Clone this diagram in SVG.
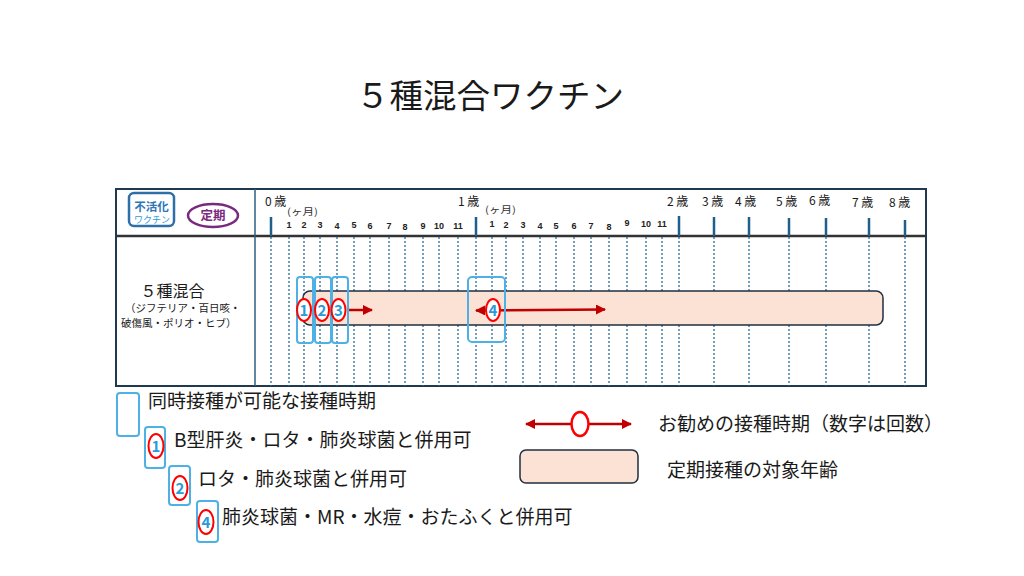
<svg xmlns="http://www.w3.org/2000/svg" width="1024" height="576" viewBox="0 0 1024 576">
<defs>
<style>
text{font-family:"Noto Sans CJK JP","Noto Sans",sans-serif;fill:#1a1a1a}
.yr{font-size:12px;fill:#333}
.mo{font-size:9px;font-weight:bold;font-family:"Liberation Sans","Noto Sans",sans-serif;fill:#222;text-anchor:middle}
.km{font-size:9.5px;fill:#333}
.tick{stroke:#1F5F8B;stroke-width:2.5}
.dot{stroke:#2A6A96;stroke-width:1.3;stroke-dasharray:2 2}
.sim{fill:none;stroke:#4DB1E6;stroke-width:2}
.ov{fill:#fff;stroke:#FF0000;stroke-width:2}
.num{font-size:15px;font-weight:bold;fill:#2C9AD8;text-anchor:middle}
.bar{fill:#FBE2D5;stroke:#1F2F3F;stroke-width:1.5}
.arr{stroke:#C00000;stroke-width:2.5;fill:none}
.lg{font-size:19px;fill:#1a1a1a}
</style>
<marker id="ah" viewBox="0 0 10 10" refX="9" refY="5" markerWidth="4" markerHeight="4" orient="auto-start-reverse" markerUnits="strokeWidth">
<path d="M0,0 L10,5 L0,10 z" fill="#C00000"/>
</marker>
</defs>
<rect width="1024" height="576" fill="#fff"/>

<g id="title"><text x="356" y="108" font-size="33.5">５種混合ワクチン</text></g>

<g id="table">
<rect x="116" y="189" width="810" height="197" fill="none" stroke="#1F3A4F" stroke-width="2"/>
<line x1="116" y1="236" x2="926" y2="236" stroke="#333" stroke-width="2.5"/>
<line x1="255" y1="189" x2="255" y2="386" stroke="#2F5F80" stroke-width="1.5"/>
</g>

<g id="badge-inactive">
<rect x="129" y="193" width="45" height="33" rx="5" fill="#fff" stroke="#2E6FA7" stroke-width="2.5"/>
<text x="151.5" y="211" font-size="11.5" font-weight="bold" text-anchor="middle" style="fill:#2E75B6">不活化</text>
<text x="152" y="222.5" font-size="9" text-anchor="middle" style="fill:#2E9BDA">ワクチン</text>
</g>
<g id="badge-teiki">
<ellipse cx="213" cy="215.5" rx="25" ry="11.5" fill="#fff" stroke="#7A2A7E" stroke-width="2.5"/>
<text x="213" y="220" font-size="12.5" font-weight="bold" text-anchor="middle" style="fill:#7A2A7E">定期</text>
</g>

<g id="axis">
<g class="yr">
<text x="265" y="206">0 歳</text>
<text x="458" y="206">1 歳</text>
<text x="667" y="206">2 歳</text>
<text x="702" y="206">3 歳</text>
<text x="735" y="206">4 歳</text>
<text x="776" y="206">5 歳</text>
<text x="809" y="205">6 歳</text>
<text x="852" y="207">7 歳</text>
<text x="889" y="207">8 歳</text>
</g>
<text class="km" x="287" y="215" textLength="31" lengthAdjust="spacingAndGlyphs">(ヶ月)</text>
<text class="km" x="485" y="213" textLength="31" lengthAdjust="spacingAndGlyphs">(ヶ月)</text>
<g>
<line class="tick" x1="271" y1="217" x2="271" y2="236"/>
<line class="tick" x1="476" y1="217" x2="476" y2="236"/>
<line class="tick" x1="679" y1="216" x2="679" y2="236"/>
<line class="tick" x1="714" y1="217" x2="714" y2="236"/>
<line class="tick" x1="749" y1="217" x2="749" y2="236"/>
<line class="tick" x1="789" y1="218" x2="789" y2="236"/>
<line class="tick" x1="826" y1="218" x2="826" y2="236"/>
<line class="tick" x1="869" y1="218" x2="869" y2="236"/>
<line class="tick" x1="905" y1="220" x2="905" y2="236"/>
</g>
<g>
<text class="mo" x="289" y="228">1</text>
<text class="mo" x="304" y="228">2</text>
<text class="mo" x="320" y="228">3</text>
<text class="mo" x="337" y="229">4</text>
<text class="mo" x="354" y="228">5</text>
<text class="mo" x="370" y="229">6</text>
<text class="mo" x="389" y="229">7</text>
<text class="mo" x="405" y="230">8</text>
<text class="mo" x="423" y="229">9</text>
<text class="mo" x="439" y="229">10</text>
<text class="mo" x="458" y="229">11</text>
<text class="mo" x="492" y="227">1</text>
<text class="mo" x="506" y="228">2</text>
<text class="mo" x="523" y="228">3</text>
<text class="mo" x="540" y="229">4</text>
<text class="mo" x="556" y="229">5</text>
<text class="mo" x="574" y="229">6</text>
<text class="mo" x="591" y="229">7</text>
<text class="mo" x="609" y="230">8</text>
<text class="mo" x="627" y="226">9</text>
<text class="mo" x="646" y="227">10</text>
<text class="mo" x="662" y="227">11</text>
</g>
<g class="dot">
<line x1="271" y1="237" x2="271" y2="386"/>
<line x1="289" y1="237" x2="289" y2="386"/>
<line x1="304" y1="237" x2="304" y2="386"/>
<line x1="320" y1="237" x2="320" y2="386"/>
<line x1="337" y1="237" x2="337" y2="386"/>
<line x1="354" y1="237" x2="354" y2="386"/>
<line x1="370" y1="237" x2="370" y2="386"/>
<line x1="389" y1="237" x2="389" y2="386"/>
<line x1="405" y1="237" x2="405" y2="386"/>
<line x1="423" y1="237" x2="423" y2="386"/>
<line x1="439" y1="237" x2="439" y2="386"/>
<line x1="458" y1="237" x2="458" y2="386"/>
<line x1="476" y1="237" x2="476" y2="386"/>
<line x1="492" y1="237" x2="492" y2="386"/>
<line x1="506" y1="237" x2="506" y2="386"/>
<line x1="523" y1="237" x2="523" y2="386"/>
<line x1="540" y1="237" x2="540" y2="386"/>
<line x1="556" y1="237" x2="556" y2="386"/>
<line x1="574" y1="237" x2="574" y2="386"/>
<line x1="591" y1="237" x2="591" y2="386"/>
<line x1="609" y1="237" x2="609" y2="386"/>
<line x1="627" y1="237" x2="627" y2="386"/>
<line x1="646" y1="237" x2="646" y2="386"/>
<line x1="662" y1="237" x2="662" y2="386"/>
<line x1="679" y1="237" x2="679" y2="386"/>
<line x1="714" y1="237" x2="714" y2="386"/>
<line x1="749" y1="237" x2="749" y2="386"/>
<line x1="789" y1="237" x2="789" y2="386"/>
<line x1="826" y1="237" x2="826" y2="386"/>
<line x1="869" y1="237" x2="869" y2="386"/>
<line x1="905" y1="237" x2="905" y2="386"/>
</g>
</g>

<g id="row-label">
<text x="172.5" y="297" font-size="16" text-anchor="middle">５種混合</text>
<text x="125" y="312" font-size="10.5">（ジフテリア・百日咳・</text>
<text x="121" y="326.5" font-size="10.5">破傷風・ポリオ・ヒブ）</text>
</g>

<g id="target-age-bar"><rect class="bar" x="303" y="291" width="580" height="34" rx="7"/></g>

<g id="connectors">
<line class="arr" x1="348" y1="310" x2="372" y2="310" marker-end="url(#ah)"/>
<line class="arr" x1="476" y1="310.5" x2="605" y2="309.5" marker-start="url(#ah)" marker-end="url(#ah)"/>
</g>

<g id="dose-1">
<rect class="sim" x="297" y="277" width="16" height="66" rx="3"/>
<ellipse class="ov" cx="304" cy="310" rx="7" ry="11"/>
<text class="num" x="304" y="315.5">1</text>
</g>
<g id="dose-2">
<rect class="sim" x="315" y="277" width="16" height="66" rx="3"/>
<ellipse class="ov" cx="322" cy="310" rx="7" ry="11"/>
<text class="num" x="322" y="315.5">2</text>
</g>
<g id="dose-3">
<rect class="sim" x="332" y="277" width="16" height="66" rx="3"/>
<ellipse class="ov" cx="338.5" cy="310" rx="7" ry="11"/>
<text class="num" x="338.5" y="315.5">3</text>
</g>
<g id="dose-4">
<rect class="sim" x="468" y="277" width="37" height="65" rx="4"/>
<ellipse class="ov" cx="493" cy="310" rx="7" ry="11"/>
<text class="num" x="493" y="315.5">4</text>
</g>

<g id="legend-simultaneous">
<rect class="sim" x="117" y="393" width="22" height="43" rx="3"/>
<text class="lg" x="148" y="408">同時接種が可能な接種時期</text>
</g>
<g id="legend-1">
<rect class="sim" x="145" y="427" width="20" height="41" rx="3"/>
<ellipse class="ov" cx="156" cy="446" rx="7.5" ry="12"/>
<text class="num" x="156" y="451.5">1</text>
<text class="lg" x="174" y="447">B型肝炎・ロタ・肺炎球菌と併用可</text>
</g>
<g id="legend-2">
<rect class="sim" x="169" y="466" width="21" height="39" rx="3"/>
<ellipse class="ov" cx="180" cy="488" rx="7.5" ry="12"/>
<text class="num" x="180" y="493.5">2</text>
<text class="lg" x="198" y="486">ロタ・肺炎球菌と併用可</text>
</g>
<g id="legend-4">
<rect class="sim" x="197" y="501" width="21" height="41" rx="3"/>
<ellipse class="ov" cx="206" cy="522" rx="7.5" ry="12"/>
<text class="num" x="206" y="527.5">4</text>
<text class="lg" x="222" y="524">肺炎球菌・MR・水痘・おたふくと併用可</text>
</g>
<g id="legend-recommended">
<line class="arr" x1="526" y1="424" x2="631" y2="424" marker-start="url(#ah)" marker-end="url(#ah)"/>
<ellipse class="ov" cx="580" cy="424" rx="8.5" ry="12" style="stroke-width:2.5"/>
<text class="lg" x="658" y="431">お勧めの接種時期（数字は回数）</text>
</g>
<g id="legend-target">
<rect class="bar" x="520" y="450" width="118" height="33" rx="6"/>
<text class="lg" x="667" y="477">定期接種の対象年齢</text>
</g>
</svg>
